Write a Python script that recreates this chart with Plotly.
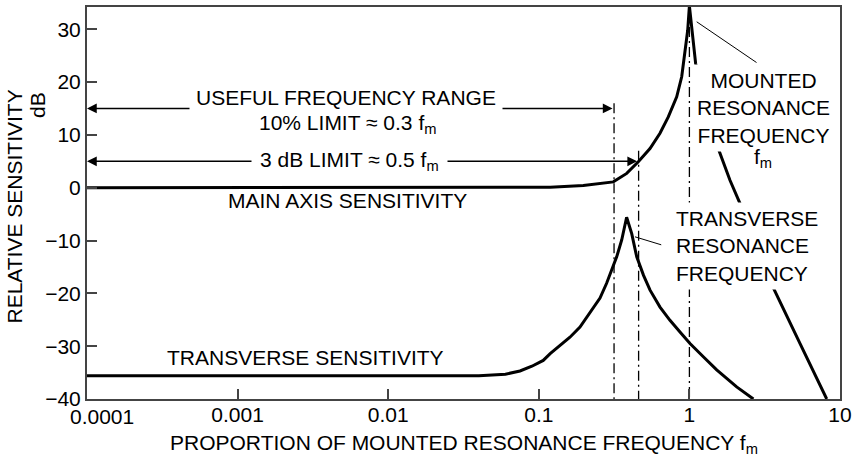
import math
import plotly.graph_objects as go

# ---------------- data ----------------
main_freq = [0.0001, 0.1, 0.119, 0.1975, 0.3125, 0.3835, 0.4578, 0.5475, 0.6378, 0.7243,
             0.8235, 0.889, 0.935, 0.9743, 1.0, 1.1, 1.541, 1.86, 2.17, 3.57, 5.43, 8.16]
main_db = [0, 0, 0.1, 0.4, 1.1, 2.7, 4.9, 7.4, 10.3, 13.4,
           17.2, 21.0, 25.4, 29.8, 34.4, 23.5, 7.7, 1.4, -3.0, -18.7, -29.5, -40.0]

trans_freq = [0.0001, 0.04, 0.06, 0.075, 0.09, 0.107, 0.119, 0.1383, 0.161, 0.1877, 0.218,
              0.2549, 0.282, 0.3125, 0.329, 0.3553, 0.3737, 0.383, 0.414, 0.447, 0.496,
              0.548, 0.638, 0.743, 0.866, 1.009, 1.237, 1.518, 2.06, 2.66]
trans_db = [-35.6, -35.6, -35.3, -34.7, -33.8, -32.7, -31.4, -29.9, -28.3, -26.4, -23.8,
            -20.9, -18.1, -14.9, -13.1, -9.9, -7.1, -5.6, -8.7, -13.1, -16.6,
            -19.4, -22.6, -25.1, -27.3, -29.5, -32.0, -34.5, -37.7, -40.0]

limit_freq = [0.316, 0.46, 1.0]        # 10 % limit, 3 dB limit, mounted resonance
limit_top_db = [16.0, 7.0, 34.2]
useful_arrow_db = 15
three_db_arrow_db = 5

x_tick_vals = [0.0001, 0.001, 0.01, 0.1, 1, 10]
x_tick_text = ["", "0.001", "0.01", "0.1", "1", "10"]
y_tick_vals = [-40, -30, -20, -10, 0, 10, 20, 30]

FONT = "Liberation Sans, Arial, Helvetica, sans-serif"
FS = 21
AX = "#444444"

fig = go.Figure()

for f, top in zip(limit_freq, limit_top_db):
    fig.add_trace(go.Scatter(x=[f, f], y=[top, -40], mode="lines",
                             line=dict(color="black", width=1.3, dash="10px,4px,2px,4px"),
                             hoverinfo="skip", showlegend=False))

fig.add_trace(go.Scatter(x=main_freq, y=main_db, mode="lines",
                         line=dict(color="black", width=3), showlegend=False))
fig.add_trace(go.Scatter(x=trans_freq, y=trans_db, mode="lines",
                         line=dict(color="black", width=3), showlegend=False))

lg = math.log10
ann = []
# double-headed range arrows
for f, yv in [(limit_freq[0], useful_arrow_db), (limit_freq[1], three_db_arrow_db)]:
    ann.append(dict(x=lg(x_tick_vals[0]), y=yv, ax=lg(f), ay=yv, xref="x", yref="y",
                    axref="x", ayref="y", text="", showarrow=True, arrowhead=2,
                    startarrowhead=2, arrowside="end+start", arrowsize=1.3,
                    startarrowsize=1.3, arrowwidth=1.5, arrowcolor="black",
                    standoff=0, startstandoff=0))
# leader lines
ann.append(dict(x=lg(1.118), y=31.4, ax=lg(2.855), ay=23.5, xref="x", yref="y",
                axref="x", ayref="y", text="", showarrow=True, arrowhead=0,
                arrowwidth=1, arrowcolor="black"))
ann.append(dict(x=lg(0.435), y=-9.3, ax=lg(0.665), ay=-10.9, xref="x", yref="y",
                axref="x", ayref="y", text="", showarrow=True, arrowhead=0,
                arrowwidth=1, arrowcolor="black"))

def txt(x, y, s, bg=None, pad=0, xanchor="center", align="center"):
    d = dict(x=x, y=y, xref="x", yref="y", text=s, showarrow=False,
             font=dict(family=FONT, size=FS, color="black"),
             xanchor=xanchor, yanchor="middle", align=align, borderpad=pad)
    if bg:
        d["bgcolor"] = bg
    return d

ann.append(txt(-2.2835, 17.0, "USEFUL FREQUENCY RANGE", bg="white", pad=6))
ann.append(txt(-2.2736, 12.0, "10% LIMIT \u2248 0.3 f<sub>m</sub>"))
ann.append(txt(-2.26, 5.0, "3 dB LIMIT \u2248 0.5 f<sub>m</sub>", bg="white", pad=8))
ann.append(txt(-2.267, -2.4, "MAIN AXIS SENSITIVITY"))
ann.append(txt(-2.546, -32.2, "TRANSVERSE SENSITIVITY"))
ann.append(txt(0.4887, 15.0, "MOUNTED<br>RESONANCE<br>FREQUENCY", bg="white", pad=4))
ann.append(txt(0.4887, 5.6, "f<sub>m</sub>"))
ann.append(txt(-0.1222, -11.0, "TRANSVERSE<br>RESONANCE<br>FREQUENCY", bg="white", pad=4,
               xanchor="left", align="left"))

# axis titles and the shifted first tick label
ann.append(dict(x=0.5, y=-0.115, xref="paper", yref="paper", showarrow=False,
                text="PROPORTION OF MOUNTED RESONANCE FREQUENCY f<sub>m</sub>",
                font=dict(family=FONT, size=FS, color="black"),
                xanchor="center", yanchor="middle"))
ann.append(dict(x=-0.0963, y=0.4923, xref="paper", yref="paper", showarrow=False,
                text="RELATIVE SENSITIVITY", textangle=-90,
                font=dict(family=FONT, size=FS, color="black"),
                xanchor="center", yanchor="middle"))
ann.append(dict(x=-0.0665, y=0.75, xref="paper", yref="paper", showarrow=False,
                text="dB", textangle=-90,
                font=dict(family=FONT, size=FS, color="black"),
                xanchor="center", yanchor="middle"))
ann.append(dict(x=lg(x_tick_vals[0]), y=0, xref="x", yref="paper", showarrow=False,
                text="0.0001", xanchor="left", yanchor="top", xshift=-19, yshift=-4,
                font=dict(family=FONT, size=FS, color="black")))

fig.update_layout(
    width=859, height=460, autosize=False,
    margin=dict(l=87, r=19, t=7, b=61, autoexpand=False),
    paper_bgcolor="white", plot_bgcolor="white",
    font=dict(family=FONT, size=FS, color="black"),
    annotations=ann,
    xaxis=dict(type="log", range=[-4, 1], tickvals=x_tick_vals, ticktext=x_tick_text,
               ticks="inside", ticklen=10, tickwidth=1.5, tickcolor=AX, automargin=False,
               ticklabelstandoff=-4,
               showline=True, linecolor=AX, linewidth=2, mirror=True,
               showgrid=False, zeroline=False, tickfont=dict(size=FS, color="black")),
    yaxis=dict(range=[-40, 34.2], tickvals=y_tick_vals, automargin=False,
               ticks="inside", ticklen=10, tickwidth=1.5, tickcolor=AX,
               showline=True, linecolor=AX, linewidth=2, mirror=True,
               showgrid=False, zeroline=False, tickfont=dict(size=FS, color="black")),
)

fig.write_html("out.html", config={"displayModeBar": False},
               post_script="document.body.style.margin='0';document.body.style.padding='0';")
